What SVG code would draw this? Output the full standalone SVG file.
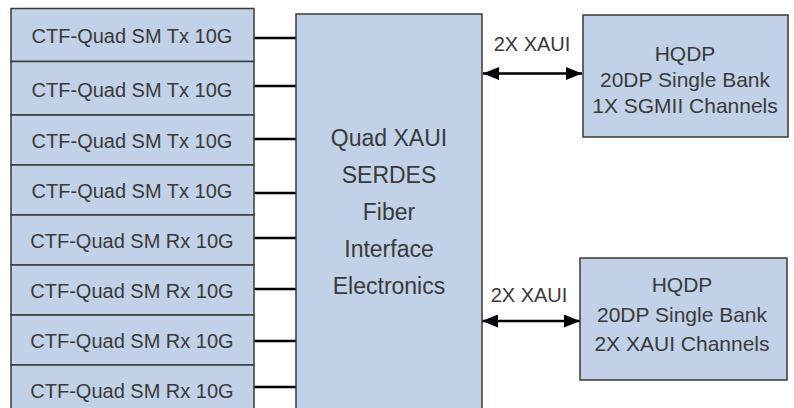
<svg xmlns="http://www.w3.org/2000/svg" width="794" height="408" viewBox="0 0 794 408">
<style>
.box{fill:#c1d1e7;stroke:#3a3a3a;stroke-width:1.5}
.t{font-family:"Liberation Sans",Arial,sans-serif;fill:#3a3a3a;text-anchor:middle}
.lt{font-size:20px}
.ct{font-size:23px}
.rt{font-size:21px}
.al{font-size:20px}
.wire{stroke:#000;stroke-width:2.5;fill:none}
</style>
<defs>
<marker id="ah" viewBox="0 0 16 13" refX="16" refY="6.5" markerWidth="16" markerHeight="13" markerUnits="userSpaceOnUse" orient="auto-start-reverse">
<path d="M0,0 L16,6.5 L0,13 Z" fill="#000"/>
</marker>
</defs>
<g id="connectors">
<line class="wire" x1="254" y1="38" x2="296" y2="38"/>
<line class="wire" x1="254" y1="86" x2="296" y2="86"/>
<line class="wire" x1="254" y1="139" x2="296" y2="139"/>
<line class="wire" x1="254" y1="193" x2="296" y2="193"/>
<line class="wire" x1="254" y1="238" x2="296" y2="238"/>
<line class="wire" x1="254" y1="289" x2="296" y2="289"/>
<line class="wire" x1="254" y1="341" x2="296" y2="341"/>
<line class="wire" x1="254" y1="387" x2="296" y2="387"/>
<line class="wire" x1="483" y1="73.5" x2="582" y2="73.5" marker-start="url(#ah)" marker-end="url(#ah)"/>
<text class="t al" x="532" y="51">2X XAUI</text>
<line class="wire" x1="482" y1="321" x2="580" y2="321" marker-start="url(#ah)" marker-end="url(#ah)"/>
<text class="t al" x="529" y="302">2X XAUI</text>
</g>
<g id="tx1"><rect class="box" x="11" y="8.5" width="243" height="53"/><text class="t lt" x="132" y="43">CTF-Quad SM Tx 10G</text></g>
<g id="tx2"><rect class="box" x="11" y="61.5" width="243" height="53.5"/><text class="t lt" x="132" y="97">CTF-Quad SM Tx 10G</text></g>
<g id="tx3"><rect class="box" x="11" y="115" width="243" height="50"/><text class="t lt" x="132" y="148">CTF-Quad SM Tx 10G</text></g>
<g id="tx4"><rect class="box" x="11" y="165" width="243" height="50"/><text class="t lt" x="132" y="198">CTF-Quad SM Tx 10G</text></g>
<g id="rx1"><rect class="box" x="11" y="215" width="243" height="50"/><text class="t lt" x="132" y="248">CTF-Quad SM Rx 10G</text></g>
<g id="rx2"><rect class="box" x="11" y="265" width="243" height="50"/><text class="t lt" x="132" y="298">CTF-Quad SM Rx 10G</text></g>
<g id="rx3"><rect class="box" x="11" y="315" width="243" height="50"/><text class="t lt" x="132" y="348">CTF-Quad SM Rx 10G</text></g>
<g id="rx4"><rect class="box" x="11" y="365" width="243" height="50"/><text class="t lt" x="132" y="398">CTF-Quad SM Rx 10G</text></g>
<g id="serdes">
<rect class="box" x="296" y="14" width="186" height="400"/>
<text class="t ct" x="389" y="146">Quad XAUI</text>
<text class="t ct" x="389" y="183">SERDES</text>
<text class="t ct" x="389" y="220">Fiber</text>
<text class="t ct" x="389" y="257">Interface</text>
<text class="t ct" x="389" y="294">Electronics</text>
</g>
<g id="hqdp1">
<rect class="box" x="583" y="15" width="205" height="122"/>
<text class="t rt" x="685" y="61">HQDP</text>
<text class="t rt" x="685" y="87">20DP Single Bank</text>
<text class="t rt" x="685" y="113">1X SGMII Channels</text>
</g>
<g id="hqdp2">
<rect class="box" x="580" y="258" width="207" height="122"/>
<text class="t rt" x="682" y="292">HQDP</text>
<text class="t rt" x="682" y="322">20DP Single Bank</text>
<text class="t rt" x="682" y="351">2X XAUI Channels</text>
</g>
</svg>
